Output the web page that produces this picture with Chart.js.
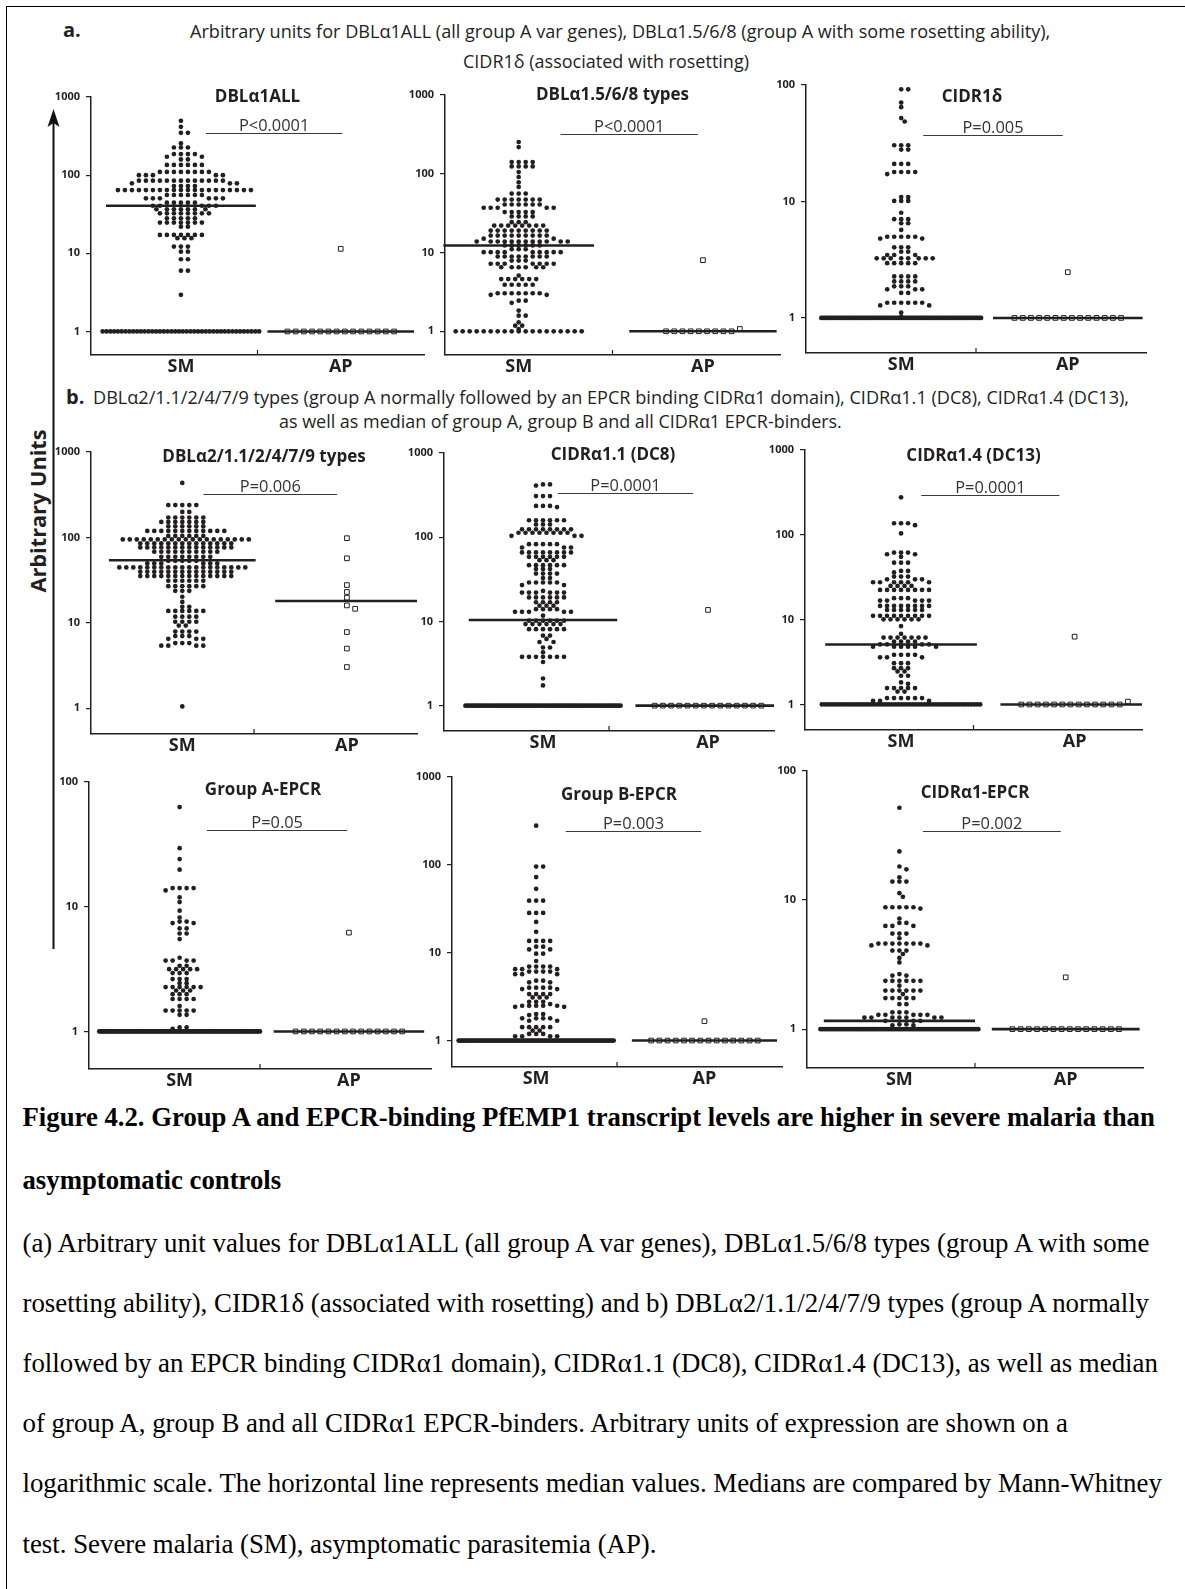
<!DOCTYPE html>
<html>
<head>
<meta charset="utf-8">
<script src="https://cdn.jsdelivr.net/npm/chart.js"></script>
<style>
  html, body { margin: 0; padding: 0; background: #fff; }
  body { width: 1185px; height: 1589px; position: relative; overflow: hidden; color: #231f20; }
  .t { position: absolute; white-space: nowrap; line-height: 1; transform: translateY(-50%); }
  .hdr { font-family: "Open Sans", "DejaVu Sans", sans-serif; font-size: 16px; }
  .lbl { font-family: "Open Sans", sans-serif; font-weight: 700; font-size: 20px; }
  .cap { font-family: "Liberation Serif", "Times New Roman", serif; font-size: 24px; color: #000; }
  .capb { font-weight: 700; }
  canvas { position: absolute; }
  #frameTop { position: absolute; left: 6px; top: 6px; width: 1179px; height: 0; border-top: 1.5px solid #000; }
  #frameLeft { position: absolute; left: 6px; top: 6px; width: 0; height: 1583px; border-left: 1.5px solid #000; }
  #yTitle { position: absolute; left: 37.5px; top: 511px; white-space: nowrap; line-height: 1;
            font-family: "Open Sans", sans-serif; font-weight: 700; font-size: 20px;
            transform: translate(-50%, -50%) rotate(-90deg); }
</style>
</head>
<body>
<div id="frameTop"></div>
<div id="frameLeft"></div>

<svg style="position:absolute;left:0;top:0" width="80" height="1000">
  <defs><filter id="soft"><feGaussianBlur stdDeviation="1.3"/></filter></defs>
  <line x1="55" y1="126" x2="55" y2="956" stroke="#aaa" stroke-width="2.5" filter="url(#soft)"/>
  <line x1="53.5" y1="120" x2="53.5" y2="949" stroke="#111" stroke-width="2"/>
  <path d="M53.5 109 L59.5 127 L53.5 123 L47.5 127 Z" fill="#111"/>
</svg>
<div id="yTitle">Arbitrary Units</div>

<div class="t lbl" style="left:63px;top:30px;">a.</div>
<div class="t hdr" id="ha1" style="left:190px;top:31px;">Arbitrary units for DBLα1ALL (all group A var genes), DBLα1.5/6/8 (group A with some rosetting ability),</div>
<div class="t hdr" id="ha2" style="left:463px;top:61px;">CIDR1δ (associated with rosetting)</div>
<div class="t lbl" style="left:66px;top:397px;">b.</div>
<div class="t hdr" id="hb1" style="left:93px;top:397px;">DBLα2/1.1/2/4/7/9 types (group A normally followed by an EPCR binding CIDRα1 domain), CIDRα1.1 (DC8), CIDRα1.4 (DC13),</div>
<div class="t hdr" id="hb2" style="left:279px;top:422px;">as well as median of group A, group B and all CIDRα1 EPCR-binders.</div>

<div class="t cap capb" id="c1" style="left:22.5px;top:1117px;">Figure 4.2. Group A and EPCR-binding PfEMP1 transcript levels are higher in severe malaria than</div>
<div class="t cap capb" id="c2" style="left:22.5px;top:1180px;">asymptomatic controls</div>
<div class="t cap" id="c3" style="left:22.5px;top:1243px;">(a) Arbitrary unit values for DBLα1ALL (all group A var genes), DBLα1.5/6/8 types (group A with some</div>
<div class="t cap" id="c4" style="left:22.5px;top:1303px;">rosetting ability), CIDR1δ (associated with rosetting) and b) DBLα2/1.1/2/4/7/9 types (group A normally</div>
<div class="t cap" id="c5" style="left:22.5px;top:1363px;">followed by an EPCR binding CIDRα1 domain), CIDRα1.1 (DC8), CIDRα1.4 (DC13), as well as median</div>
<div class="t cap" id="c6" style="left:22.5px;top:1423px;">of group A, group B and all CIDRα1 EPCR-binders. Arbitrary units of expression are shown on a</div>
<div class="t cap" id="c7" style="left:22.5px;top:1483px;">logarithmic scale. The horizontal line represents median values. Medians are compared by Mann-Whitney</div>
<div class="t cap" id="c8" style="left:22.5px;top:1544px;">test. Severe malaria (SM), asymptomatic parasitemia (AP).</div>

<script>
// ---------- data ----------
const titles = ['DBLα1ALL', 'DBLα1.5/6/8 types', 'CIDR1δ',
                'DBLα2/1.1/2/4/7/9 types', 'CIDRα1.1 (DC8)', 'CIDRα1.4 (DC13)',
                'Group A-EPCR', 'Group B-EPCR', 'CIDRα1-EPCR'];
const pTexts = ['P<0.0001', 'P<0.0001', 'P=0.005',
                'P=0.006', 'P=0.0001', 'P=0.0001',
                'P=0.05', 'P=0.003', 'P=0.002'];
const groupLabels = ['SM', 'AP'];
const yMax = [1000, 1000, 100, 1000, 1000, 1000, 100, 1000, 100];
const yTicks = [1, 10, 100, 1000];
const smMedian = [40.6, 12.3, 1, 54, 10.4, 5.1, 1, 1, 1.16];
const apMedian = [1, 1, 1, 18, 1, 1, 1, 1, 1];

// severe malaria (SM) values per panel
const sm1 = [
  495, 415, 348, 348, 255, 226, 226, 226, 186, 186, 186, 186, 172, 172, 159, 159,
  135, 135, 135, 135, 135, 135,
  110, 110, 110, 110, 110, 110, 110, 110,
  100, 100, 100, 100, 100,
  85, 85, 85, 85, 85, 85, 85, 85, 85, 85, 85, 85, 85,
  78.6, 78.6, 78.6, 72.6, 72.6, 72.6, 72.6,
  64.5, 64.5, 64.5, 64.5, 64.5, 64.5, 64.5, 64.5, 64.5, 64.5,
  64.5, 64.5, 64.5, 64.5, 64.5, 64.5, 64.5, 64.5, 64.5, 64.5,
  55.7, 55.7, 55.7, 55.7, 55.7, 55.7,
  50.6, 50.6, 50.6, 50.6, 50.6, 50.6,
  44.5, 44.5, 44.5, 44.5, 44.5,
  40.6, 40.6, 40.6, 40.6, 40.6,
  36.6, 36.6, 36.6, 36.6, 36.6, 36.6, 36.6,
  32.5, 32.5, 32.5, 32.5, 32.5, 32.5, 32.5, 32.5,
  28, 28, 28, 28, 28,
  24.7, 24.7, 24.7, 24.7, 24.7, 24.7, 24.7,
  21.9, 21.9,
  17.2, 17.2, 17.2, 17.2, 17.2, 17.2, 17.2,
  15.6, 15.6, 15.6, 12.2, 12.2, 12.2, 10.5, 10.5, 8.4, 8.4, 6.0, 6.0, 2.94,
  1, 1, 1, 1, 1, 1, 1, 1, 1, 1,
  1, 1, 1, 1, 1, 1, 1, 1, 1, 1,
  1, 1, 1, 1, 1, 1, 1, 1, 1, 1,
  1, 1, 1, 1, 1, 1, 1, 1, 1, 1,
  1, 1
];
const sm2 = [
  253, 218, 141, 141, 141, 141, 124, 124, 124, 124, 105, 91, 78, 68, 56, 56, 56,
  47, 47, 47, 47, 47, 47, 47,
  40.7, 40.7, 40.7, 40.7, 40.7, 40.7,
  37, 37, 37, 37, 37,
  32.6, 32.6, 32.6, 32.6, 32.6,
  28.7, 28.7, 28.7, 28.7,
  24.3, 24.3, 24.3,
  22, 22, 22, 22, 22, 22, 22, 22,
  19, 19, 19, 19, 19, 19, 19, 19, 19,
  16.4, 16.4, 16.4, 16.4, 16.4, 16.4, 16.4, 16.4, 16.4,
  15, 15,
  13.8, 13.8, 13.8, 13.8, 13.8, 13.8, 13.8, 13.8, 13.8, 13.8, 13.8, 13.8,
  12.3, 12.3, 12.3, 12.3, 12.3, 12.3,
  11, 11, 11,
  10.1, 10.1, 10.1, 10.1, 10.1, 10.1, 10.1, 10.1, 10.1,
  8.9, 8.9, 8.9, 8.9, 8.9, 8.9, 8.9, 8.9,
  7.9, 7.9, 7.9,
  7.2, 7.2, 7.2, 7.2, 7.2, 7.2, 7.2,
  6.5, 6.5, 6.5, 6.5, 6.5, 6.5,
  5.1, 4.6, 4.6, 4.6, 4.6, 4.6, 4.6,
  3.9, 3.9, 3.9, 3.9, 3.9,
  3.04, 3.04, 3.04, 3.04, 3.04, 3.04, 3.04,
  2.9, 2.9, 2.45, 2.45, 2.3, 1.83, 1.58, 1.58, 1.3, 1.18, 1.18, 1.07,
  1, 1, 1, 1, 1, 1, 1, 1, 1, 1,
  1, 1, 1, 1, 1, 1, 1, 1, 1
];
const sm3 = [
  91.8, 91.8, 70.7, 64.5, 52, 48.6, 30.4, 30.4, 30.4, 27.9, 27.9,
  21, 21, 21, 17.9, 17.9, 17.9, 17.9, 17.2,
  10.9, 10.9, 10.1, 10.1, 10.1, 8.0, 7.05, 7.05, 7.05, 6.5, 6.5, 5.7,
  4.98, 4.98, 4.98, 4.98, 4.98, 4.8, 4.8,
  4.04, 4.04, 4.04, 3.7, 3.7, 3.47, 3.47, 3.47,
  3.25, 3.25, 3.25, 3.25, 3.25, 3.25, 3.25, 3.25,
  2.95, 2.95, 2.95, 2.95, 2.95,
  2.27, 2.27, 2.27, 2.27, 2.06, 2.06, 2.06, 2.06,
  1.87, 1.87, 1.87, 1.76, 1.76, 1.76, 1.64, 1.64,
  1.35, 1.35, 1.35, 1.35, 1.35, 1.35, 1.28, 1.28, 1.11, 1.02,
  1, 1, 1, 1, 1, 1, 1, 1, 1, 1,
  1, 1, 1, 1, 1, 1, 1, 1, 1, 1,
  1, 1, 1, 1, 1, 1, 1, 1, 1, 1,
  1, 1, 1, 1, 1, 1, 1, 1, 1, 1,
  1, 1, 1, 1, 1, 1, 1, 1, 1, 1,
  1, 1, 1, 1, 1, 1, 1, 1, 1, 1,
  1, 1, 1, 1, 1, 1, 1, 1, 1, 1,
  1, 1, 1, 1, 1, 1, 1, 1, 1, 1,
  1, 1, 1, 1, 1, 1, 1, 1, 1, 1,
  1, 1, 1, 1, 1, 1, 1, 1, 1, 1
];
const sm4 = [
  435, 239, 239, 239, 239, 239, 199, 199,
  171, 171, 171, 171, 171, 171,
  152, 152, 152, 152, 152, 152, 152,
  135, 135, 135, 135, 135, 135,
  119, 119, 119, 119, 119, 119, 119, 119, 119, 119, 119, 119,
  104, 104, 104, 104, 104, 104,
  94.7, 94.7, 94.7, 94.7, 94.7, 94.7, 94.7, 94.7, 94.7, 94.7,
  94.7, 94.7, 94.7, 94.7, 94.7, 94.7, 94.7, 94.7, 94.7,
  85, 85, 85, 85, 85, 85, 85, 85, 85, 85, 85, 85, 85, 85,
  76.4, 76.4, 76.4, 76.4, 76.4, 76.4, 76.4, 76.4, 76.4, 76.4, 76.4, 76.4, 76.4, 76.4,
  68, 68, 68, 68, 68, 68, 68, 68, 68, 68,
  59.3, 59.3, 59.3, 59.3, 59.3, 59.3, 59.3, 59.3,
  53.2, 53.2, 53.2, 53.2, 53.2,
  49.6, 49.6, 49.6, 49.6, 49.6, 49.6,
  44.6, 44.6, 44.6, 44.6, 44.6, 44.6, 44.6, 44.6, 44.6, 44.6,
  44.6, 44.6, 44.6, 44.6, 44.6, 44.6, 44.6, 44.6, 44.6,
  39.6, 39.6, 39.6, 39.6, 39.6, 39.6, 39.6, 39.6, 39.6, 39.6, 39.6, 39.6, 39.6, 39.6,
  35.3, 35.3, 35.3, 35.3, 35.3, 35.3, 35.3, 35.3, 35.3, 35.3, 35.3, 35.3, 35.3, 35.3,
  31.1, 31.1, 31.1, 31.1, 31.1, 31.1,
  26.9, 26.9, 26.9, 26.9, 26.9, 26.9,
  23.7, 23.7, 23.7, 20.2, 17.6, 15.4, 15.4,
  13.8, 13.8, 13.8, 13.8, 13.8, 13.8,
  11.8, 11.8, 11.8, 11.8, 10.3, 10.3, 10.3, 10.3, 9.3, 9.3,
  7.9, 7.9, 7.9, 7.9, 7.0, 7.0, 7.0, 6.5, 6.5, 6.5,
  5.8, 5.8, 5.8, 5.4, 5.4, 5.4, 5.4, 1.05
];
const sm5 = [
  424, 424, 410, 308, 308, 308, 235, 235, 235, 228,
  159, 159, 159, 159, 159, 159, 142, 142, 142,
  124, 124, 124, 124, 124, 124, 124, 124,
  113, 113, 113, 113, 113, 113, 113, 113,
  104, 104, 104, 82.6, 82.6, 82.6, 82.6, 82.6, 75.5, 75.5, 75.5,
  66, 66, 66, 66, 66, 66, 66, 66,
  58.5, 58.5, 58.5, 58.5, 58.5, 58.5, 53.4, 53.4, 53.4,
  46.6, 46.6, 46.6, 46.6, 46.6, 46.6, 41.8, 41.8, 41.8,
  37, 37, 37, 37, 32.7, 32.7, 29, 29, 29, 29, 29, 27, 27,
  23, 22, 22, 22, 22, 22, 22,
  19.3, 19.3, 19.3, 19.3, 19.3, 19.3,
  16.9, 16.9, 16.9, 16.9, 15.4, 15.4, 15.4,
  14, 14, 14, 14, 13, 13, 13, 13, 13, 11.7,
  10.2, 10.2, 10.2, 10.2, 10.2, 10.2,
  9.3, 9.3, 9.3, 9.3, 9.3, 9.3,
  8.1, 8.1, 8.1, 8.1, 8.1, 8.1,
  6.8, 6.8, 6.2, 5.7, 5.7, 4.9, 4.9, 4.3,
  3.8, 3.8, 3.8, 3.8, 3.8, 3.8, 3.8, 3.3, 2.1, 1.74,
  1, 1, 1, 1, 1, 1, 1, 1, 1, 1,
  1, 1, 1, 1, 1, 1, 1, 1, 1, 1,
  1, 1, 1, 1, 1, 1, 1, 1, 1, 1,
  1, 1, 1, 1, 1, 1, 1, 1, 1, 1,
  1, 1, 1, 1, 1, 1, 1, 1, 1, 1,
  1, 1, 1, 1, 1, 1, 1, 1, 1, 1,
  1, 1, 1, 1, 1, 1, 1, 1, 1, 1,
  1, 1, 1, 1, 1, 1, 1, 1, 1, 1
];
const sm6 = [
  277, 137, 137, 137, 130, 104, 61.7, 61.7, 61.7, 59, 59, 55,
  47, 47, 47, 37.5, 37.5, 36, 32.2, 32.2, 32.2, 29.9, 29.9, 29.9,
  27.6, 27.6, 27.6, 27.6, 27.6, 27.6, 25, 25, 25, 25,
  22.4, 22.4, 22.4, 22.4, 22.4, 22.4, 22.4, 22.4,
  17.9, 17.9, 17.9, 16.8, 16.8, 16.8, 16.8, 16.8,
  14.5, 14.5, 14.5, 14.5, 14.5, 14.5, 14.5, 14.5,
  13, 13, 13, 13, 13, 13,
  11.1, 11.1, 11.1, 11.1, 11.1, 11.1, 11.1, 11.1, 11.1,
  10.1, 10.1, 10.1, 10.1, 10.1, 10.1, 8.4, 6.8,
  6.15, 6.15, 6.15, 6.15, 6.15, 6.15, 6.15,
  5.5, 5.5, 5.5, 5.5, 5.1, 5.1, 5.1, 5.1,
  4.8, 4.8, 4.8, 4.8, 4.8, 4.8,
  3.85, 3.85, 3.85, 3.85, 3.6, 3.6, 3.6, 3.07, 3.07, 3.07,
  2.68, 2.68, 2.68, 2.45, 2.45, 2.18, 2.18, 1.82, 1.75,
  1.56, 1.56, 1.56, 1.56, 1.56, 1.42, 1.42,
  1.19, 1.19, 1.19, 1.19, 1.19, 1.19, 1.1, 1.1, 1.1,
  1, 1, 1, 1, 1, 1, 1, 1, 1, 1,
  1, 1, 1, 1, 1, 1, 1, 1, 1, 1,
  1, 1, 1, 1, 1, 1, 1, 1, 1, 1,
  1, 1, 1, 1, 1, 1, 1, 1, 1, 1,
  1, 1, 1, 1, 1, 1, 1, 1, 1, 1,
  1, 1, 1, 1, 1
];
const sm7 = [
  63, 29.5, 24.1, 19.8, 14.1, 14.1, 14.1, 14.1, 13.5, 11.9, 10.9, 9.3, 8.2,
  7.6, 7.6, 7.4, 7.4, 6.7, 6.7, 6.1, 6.1, 5.5,
  3.9, 3.7, 3.7, 3.7, 3.7, 3.36, 3.36, 3.16, 3.16, 3.16, 3.16, 3.16,
  2.94, 2.94, 2.94, 2.63, 2.63, 2.63, 2.44, 2.44,
  2.27, 2.27, 2.27, 2.27, 2.27, 2.27, 2.13, 2.13, 2.13, 1.99, 1.99, 1.99,
  1.82, 1.82, 1.82, 1.82, 1.6, 1.47, 1.47, 1.47, 1.47, 1.47, 1.36, 1.36,
  1.08, 1.08, 1.05,
  1, 1, 1, 1, 1, 1, 1, 1, 1, 1,
  1, 1, 1, 1, 1, 1, 1, 1, 1, 1,
  1, 1, 1, 1, 1, 1, 1, 1, 1, 1,
  1, 1, 1, 1, 1, 1, 1, 1, 1, 1,
  1, 1, 1, 1, 1, 1, 1, 1, 1, 1,
  1, 1, 1, 1, 1, 1, 1, 1, 1, 1,
  1, 1, 1, 1, 1, 1, 1, 1, 1, 1,
  1, 1, 1, 1, 1, 1, 1, 1, 1, 1,
  1, 1, 1, 1, 1, 1, 1, 1, 1, 1,
  1, 1, 1, 1, 1, 1, 1, 1, 1, 1,
  1, 1, 1, 1, 1, 1, 1, 1, 1, 1,
  1, 1, 1, 1, 1, 1, 1, 1, 1, 1
];
const sm8 = [
  279, 95.7, 95.7, 72.5, 53.4, 39.1, 39.1, 39.1, 28.4, 28.4, 28.4, 22.4, 17.3,
  13.6, 13.6, 13.6, 13.6, 11.7, 11.7, 10.9, 10.9, 9.75, 9.75, 8.05,
  6.95, 6.95, 6.95, 6.95, 6.5, 6.5, 6.5, 6.1, 6.1, 6.1, 6.1, 5.7, 5.7, 5.7,
  4.8, 4.8, 4.6, 4.6, 4.0, 4.0, 4.0, 4.0, 3.85, 3.85,
  3.38, 3.38, 3.38, 3.38, 3.1, 3.1, 3.1, 2.76, 2.76, 2.76, 2.6,
  2.49, 2.49, 2.49, 2.49, 2.49, 2.42, 2.42, 2.0, 2.0, 1.95,
  1.79, 1.79, 1.79, 1.79, 1.68, 1.68, 1.42, 1.42, 1.42, 1.42, 1.42,
  1.3, 1.3, 1.19, 1.19, 1.19, 1.12, 1.12, 1.12, 1.12,
  1, 1, 1, 1, 1, 1, 1, 1, 1, 1,
  1, 1, 1, 1, 1, 1, 1, 1, 1, 1,
  1, 1, 1, 1, 1, 1, 1, 1, 1, 1,
  1, 1, 1, 1, 1, 1, 1, 1, 1, 1,
  1, 1, 1, 1, 1, 1, 1, 1, 1, 1,
  1, 1, 1, 1, 1, 1, 1, 1, 1, 1,
  1, 1, 1, 1, 1, 1, 1, 1, 1, 1,
  1, 1, 1, 1, 1, 1, 1, 1, 1, 1,
  1, 1, 1, 1, 1, 1, 1, 1, 1, 1,
  1, 1, 1, 1, 1, 1, 1, 1, 1, 1
];
const sm9 = [
  51.9, 23.8, 18.2, 17.3, 15, 13.9, 13.9, 13.9, 11.3, 10.6,
  8.8, 8.8, 8.8, 8.8, 8.8, 8.6, 7.2, 6.65, 6.65, 6.3, 6.3, 6.3,
  5.5, 5.5, 5.5, 5.06, 4.6, 4.6, 4.6, 4.6, 4.6, 4.6, 4.6, 4.45, 4.45,
  4.06, 4.06, 4.06, 3.82, 3.56, 3.29, 2.67, 2.6, 2.6,
  2.37, 2.37, 2.37, 2.37, 2.37, 2.37, 2.17,
  1.99, 1.99, 1.99, 1.99, 1.99, 1.99, 1.87,
  1.74, 1.74, 1.74, 1.74, 1.74, 1.56, 1.56,
  1.35, 1.35, 1.35, 1.29, 1.29, 1.29, 1.29, 1.29,
  1.23, 1.23, 1.23, 1.23, 1.23, 1.23, 1.23, 1.16, 1.16, 1.16,
  1.09, 1.09, 1.07, 1.07,
  1, 1, 1, 1, 1, 1, 1, 1, 1, 1,
  1, 1, 1, 1, 1, 1, 1, 1, 1, 1,
  1, 1, 1, 1, 1, 1, 1, 1, 1, 1,
  1, 1, 1, 1, 1, 1, 1, 1, 1, 1,
  1, 1, 1, 1, 1, 1, 1, 1, 1, 1,
  1, 1, 1, 1, 1, 1, 1, 1, 1, 1,
  1, 1, 1, 1, 1, 1, 1, 1, 1, 1,
  1, 1, 1, 1, 1, 1, 1, 1, 1, 1
];

// asymptomatic parasitemia (AP) values per panel
const ap1 = [11.4, 1, 1, 1, 1, 1, 1, 1, 1, 1, 1, 1, 1, 1, 1];
const ap2 = [8, 1.07, 1, 1, 1, 1, 1, 1, 1, 1, 1];
const ap3 = [2.47, 1, 1, 1, 1, 1, 1, 1, 1, 1, 1, 1, 1, 1, 1];
const ap4 = [98, 57, 27.7, 23, 19.7, 16, 14.6, 7.8, 5.0, 3.04];
const ap5 = [13.7, 1, 1, 1, 1, 1, 1, 1, 1, 1, 1, 1, 1, 1, 1];
const ap6 = [6.3, 1.08, 1, 1, 1, 1, 1, 1, 1, 1, 1, 1, 1, 1, 1];
const ap7 = [6.2, 1, 1, 1, 1, 1, 1, 1, 1, 1, 1, 1, 1, 1, 1];
const ap8 = [1.66, 1, 1, 1, 1, 1, 1, 1, 1, 1, 1, 1, 1, 1, 1];
const ap9 = [2.52, 1, 1, 1, 1, 1, 1, 1, 1, 1, 1, 1, 1, 1, 1];

const smSets = [sm1, sm2, sm3, sm4, sm5, sm6, sm7, sm8, sm9];
const apSets = [ap1, ap2, ap3, ap4, ap5, ap6, ap7, ap8, ap9];

// ---------- page layout of each panel (pixels) ----------
const boxes = [
  { axisX: 90.7, xEnd: 424,   top: 96.7,  bottom: 355,    smX: 0.54, apX: 1.50, titleDx: 0,  titleDy: 0,  barDy: 36 },
  { axisX: 445,  xEnd: 780,   top: 95,    bottom: 355,    smX: 0.44, apX: 1.54, titleDx: 0,  titleDy: 0,  barDy: 39 },
  { axisX: 805.6,xEnd: 1146,  top: 85,    bottom: 353.3,  smX: 0.56, apX: 1.54, titleDx: -4, titleDy: 12, barDy: 50 },
  { axisX: 90.7, xEnd: 417,   top: 451.7, bottom: 734,    smX: 0.56, apX: 1.57, titleDx: 10, titleDy: 5,  barDy: 42 },
  { axisX: 444,  xEnd: 774,   top: 453,   bottom: 731,    smX: 0.60, apX: 1.60, titleDx: 4,  titleDy: 2,  barDy: 40 },
  { axisX: 805,  xEnd: 1142,  top: 450,   bottom: 730,    smX: 0.57, apX: 1.60, titleDx: 0,  titleDy: 6,  barDy: 45 },
  { axisX: 88.8, xEnd: 430.5, top: 782.3, bottom: 1069.3, smX: 0.53, apX: 1.52, titleDx: 3,  titleDy: 8,  barDy: 48 },
  { axisX: 452,  xEnd: 781.6, top: 776.7, bottom: 1066.7, smX: 0.51, apX: 1.53, titleDx: 2,  titleDy: 18, barDy: 54 },
  { axisX: 807,  xEnd: 1143,  top: 770.7, bottom: 1067.3, smX: 0.55, apX: 1.54, titleDx: 0,  titleDy: 22, barDy: 60 }
];

const INK = '#231f20';
const PAD = { left: 50, top: 18, right: 6, bottom: 34 };

// Spread points sideways so that they do not overlap (dot plot / beeswarm).
function spreadPoints(chart, values, center, o) {
  const ys = chart.scales.y, xs = chart.scales.x;
  const pxPerUnit = (xs.right - xs.left) / (xs.max - xs.min);
  const out = [];
  const row = values.filter(v => v <= o.floorMax).sort((a, b) => a - b);
  const rest = values.filter(v => v > o.floorMax).sort((a, b) => b - a);
  const n = row.length;
  if (n) {
    const step = n > 1 ? Math.min(o.rowStep, o.rowWidth * pxPerUnit / (n - 1)) : 0;
    row.forEach((v, i) => out.push({ x: center + (i - (n - 1) / 2) * step / pxPerUnit, y: v }));
  }
  const placed = [];
  rest.forEach(v => {
    const py = ys.getPixelForValue(v);
    let off = 0;
    for (let k = 0; k < 400; k++) {
      const cand = (k === 0 ? 0 : (k % 2 ? 1 : -1) * Math.ceil(k / 2)) * o.grid;
      let free = true;
      for (const p of placed) {
        const dx = (p.px - cand) / o.sx, dy = (p.py - py) / o.sy;
        if (dx * dx + dy * dy < 0.999) { free = false; break; }
      }
      if (free) { off = cand; break; }
    }
    placed.push({ px: off, py });
    out.push({ x: center + off / pxPerUnit, y: v });
  });
  return out;
}

function makePanel(i) {
  const b = boxes[i];
  const w = Math.round(b.xEnd - b.axisX + PAD.left + PAD.right);
  const h = Math.round(b.bottom - b.top + PAD.top + PAD.bottom);
  const cv = document.createElement('canvas');
  cv.width = w; cv.height = h;
  cv.style.left = (b.axisX - PAD.left) + 'px';
  cv.style.top = (b.top - PAD.top) + 'px';
  cv.style.width = w + 'px';
  cv.style.height = h + 'px';
  document.body.appendChild(cv);

  const decor = {
    id: 'decor' + i,
    afterDatasetsDraw(chart) {
      const { ctx, chartArea: a } = chart;
      const xm = chart.scales.x.getPixelForValue(1);
      ctx.save();
      ctx.strokeStyle = INK; ctx.lineWidth = 1.2;
      ctx.beginPath(); ctx.moveTo(xm, a.bottom); ctx.lineTo(xm, a.bottom - 5); ctx.stroke();
      ctx.fillStyle = INK;
      ctx.font = 'bold 17px "Open Sans"';
      ctx.textAlign = 'center'; ctx.textBaseline = 'middle';
      ctx.fillText(titles[i], (a.left + a.right) / 2 + b.titleDx, a.top + b.titleDy);
      const x0 = a.left + 0.345 * (a.right - a.left), x1 = a.left + 0.755 * (a.right - a.left);
      const by = Math.round(a.top + b.barDy) + 0.5;
      ctx.strokeStyle = '#3a3a3a'; ctx.lineWidth = 1;
      ctx.beginPath(); ctx.moveTo(x0, by); ctx.lineTo(x1, by); ctx.stroke();
      ctx.fillStyle = '#333';
      ctx.font = '16.4px "Open Sans"';
      ctx.textBaseline = 'alphabetic';
      ctx.fillText(pTexts[i], (x0 + x1) / 2, by - 2.5);
      ctx.restore();
    }
  };

  const chart = new Chart(cv, {
    type: 'scatter',
    data: {
      datasets: [
        { data: [{ x: b.smX - 0.45, y: smMedian[i] }, { x: b.smX + 0.45, y: smMedian[i] }],
          showLine: true, borderColor: INK, borderWidth: 2.6, pointRadius: 0, clip: false },
        { data: [{ x: b.apX - 0.44, y: apMedian[i] }, { x: Math.min(2, b.apX + 0.44), y: apMedian[i] }],
          showLine: true, borderColor: INK, borderWidth: 2.6, pointRadius: 0, clip: false },
        { data: [], pointStyle: 'circle', pointRadius: 2.35, pointBackgroundColor: INK,
          pointBorderWidth: 0, pointBorderColor: INK, clip: false },
        { data: [], pointStyle: 'rect', pointRadius: 3.3, pointBackgroundColor: '#fff',
          pointBorderColor: INK, pointBorderWidth: 1, clip: false }
      ]
    },
    options: {
      responsive: false, animation: false, devicePixelRatio: 1, events: [],
      layout: { padding: { left: 0, top: PAD.top, right: PAD.right, bottom: 0 } },
      plugins: { legend: { display: false }, tooltip: { enabled: false } },
      scales: {
        x: {
          type: 'linear', min: 0, max: 2,
          grid: { display: false, drawTicks: false },
          border: { display: true, color: INK, width: 1.5 },
          afterBuildTicks: s => { s.ticks = [{ value: b.smX }, { value: b.apX }]; },
          afterFit: s => { s.height = PAD.bottom; },
          ticks: {
            autoSkip: false, maxRotation: 0, padding: 1, color: INK,
            font: { family: 'Open Sans', weight: 'bold', size: 18 },
            callback: (v, idx) => groupLabels[idx]
          }
        },
        y: {
          type: 'logarithmic', min: 0.5, max: yMax[i],
          grid: { display: true, drawOnChartArea: false, drawTicks: true, tickLength: 5, color: INK, lineWidth: 1.2 },
          border: { display: true, color: INK, width: 1.5 },
          afterBuildTicks: s => { s.ticks = yTicks.filter(v => v <= yMax[i]).map(v => ({ value: v })); },
          afterFit: s => { s.width = PAD.left; },
          ticks: {
            padding: 6, color: INK,
            font: { family: 'Open Sans', weight: 'bold', size: 11 },
            callback: v => String(v)
          }
        }
      }
    },
    plugins: [decor]
  });

  chart.data.datasets[2].data = spreadPoints(chart, smSets[i], b.smX,
    { floorMax: 1, rowStep: 7, rowWidth: 0.94, grid: 3.5, sx: 7, sy: 3.8 });
  chart.data.datasets[3].data = spreadPoints(chart, apSets[i], b.apX,
    { floorMax: 1.1, rowStep: 8.2, rowWidth: 0.8, grid: 4.1, sx: 8.2, sy: 5.5 });
  chart.update('none');
}

// ---------- text sizing (untransformed widths) ----------
function fitTo(el, target) {
  const w = el.offsetWidth;
  const fs = parseFloat(getComputedStyle(el).fontSize);
  const size = fs * target / w;
  el.style.fontSize = size + 'px';
  return size;
}
fitTo(document.getElementById('ha1'), 861);
fitTo(document.getElementById('ha2'), 286);
fitTo(document.getElementById('hb1'), 1036);
fitTo(document.getElementById('hb2'), 563);
fitTo(document.getElementById('yTitle'), 163);
const boldSize = fitTo(document.getElementById('c1'), 1132);
document.getElementById('c2').style.fontSize = boldSize + 'px';
const bodySize = fitTo(document.getElementById('c3'), 1127);
['c4', 'c5', 'c6', 'c7', 'c8'].forEach(id => { document.getElementById(id).style.fontSize = bodySize + 'px'; });

for (let i = 0; i < 9; i++) makePanel(i);
</script>
</body>
</html>
